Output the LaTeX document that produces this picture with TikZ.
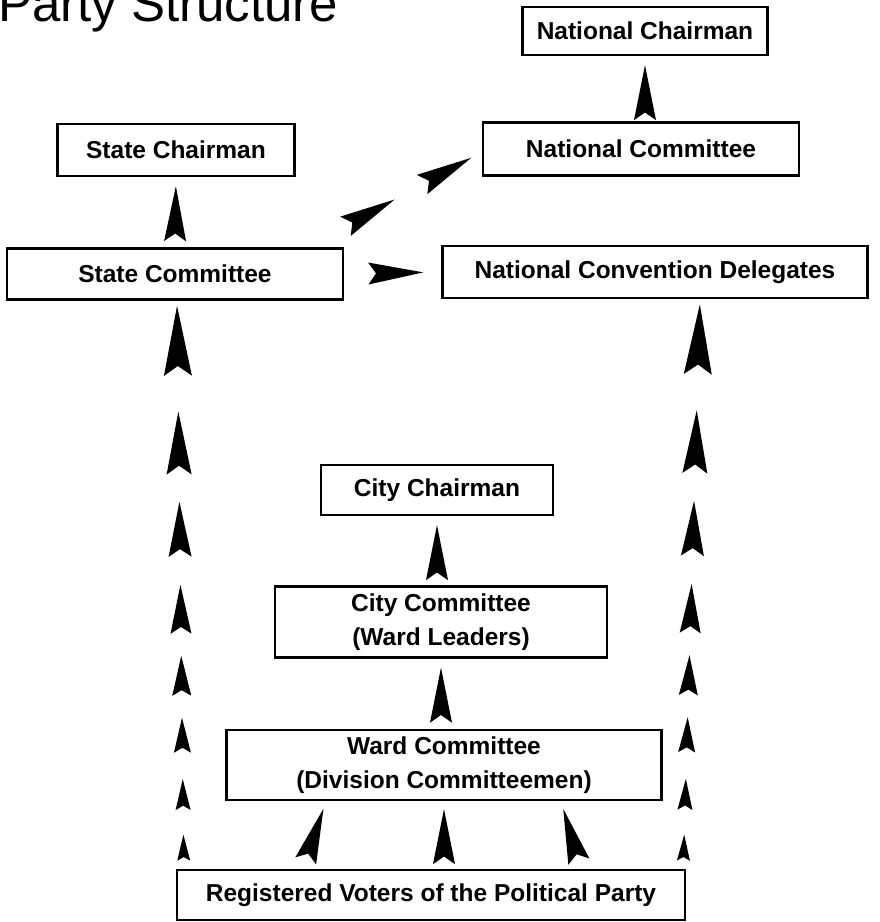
\documentclass[tikz,border=0pt]{standalone}
\usepackage{fontspec}
\setmainfont{Liberation Sans}
\usetikzlibrary{decorations.markings}

\newcommand{\dart}[2]{\fill (0,0) -- (-#1,#2) -- ({-0.86*#1},0) -- (-#1,-#2) -- cycle;}

\begin{document}
\begin{tikzpicture}[x=1pt,y=-1pt,
    box/.style={draw=black, line width=2.4pt, inner sep=0pt, align=center,
      font=\fontsize{24.5}{34}\selectfont\bfseries},
    onehead/.style={postaction={decorate}, decoration={markings,
      mark=at position #1 with {\dart{55}{11}}}},
    twoheads/.style={postaction={decorate}, decoration={markings,
      mark=at position 0.406 with {\dart{56}{11}},
      mark=at position -12pt with {\dart{56}{11}}}},
    headchain/.style={postaction={decorate}, decoration={markings,
      mark=at position 0.060 with {\dart{26}{6.5}},
      mark=at position 0.158 with {\dart{31}{7.5}},
      mark=at position 0.266 with {\dart{35}{8.5}},
      mark=at position 0.375 with {\dart{40}{9.5}},
      mark=at position 0.5 with {\dart{49}{10.5}},
      mark=at position 0.646 with {\dart{55}{11.5}},
      mark=at position 0.805 with {\dart{63}{12.5}},
      mark=at position 0.991 with {\dart{70}{14}}}}]
  \fill[white] (0,0) rectangle (880,922);
  \useasboundingbox (0,0) rectangle (880,922);

  \node[anchor=base west, inner sep=0pt, font=\fontsize{51}{51}\selectfont] (title) at (-2,21) {Party Structure};

  \node[box, minimum width=245, minimum height=48] (natchair) at (645,31) {National Chairman};
  \node[box, minimum width=316, minimum height=53] (natcom) at (641,149) {National Committee};
  \node[box, minimum width=237, minimum height=52] (statechair) at (176,150) {State Chairman};
  \node[box, minimum width=336, minimum height=51] (statecom) at (175,274) {State Committee};
  \node[box, minimum width=425, minimum height=52] (ncd) at (655,272) {National Convention Delegates};
  \node[box, minimum width=232, minimum height=50] (citychair) at (437,490) {City Chairman};
  \node[box, minimum width=332, minimum height=71] (citycom) at (441,622) {City Committee\\(Ward Leaders)};
  \node[box, minimum width=435, minimum height=70] (ward) at (444,765) {Ward Committee\\(Division Committeemen)};
  \node[box, minimum width=508, minimum height=50] (voters) at (431,895) {Registered Voters of the Political Party};

  \coordinate (diagstart) at (335,232);

  \path[onehead=-9pt] (natcom.north -| natchair.south) -- (natchair.south);
  \path[onehead=-9pt] (statecom.north) -- (statechair.south);
  \path[onehead=-18pt] (statecom.east) -- (ncd.west);
  \path[twoheads] (diagstart) -- ([yshift=-3pt]natcom.west);
  \path[onehead=-9pt] (citycom.north -| citychair.south) -- (citychair.south);
  \path[onehead=-9pt] (ward.north -| citycom.south) -- (citycom.south);
  \path[onehead=-8pt] ([xshift=-128pt]voters.north) -- ([xshift=-118pt]ward.south);
  \path[onehead=-8pt] (voters.north -| ward.south) -- (ward.south);
  \path[onehead=-8pt] ([xshift=150pt]voters.north) -- ([xshift=117pt]ward.south);
  \path[headchain] ([xshift=8pt]voters.north west) -- ([xshift=2pt]statecom.south);
  \path[headchain] ([xshift=-3pt]voters.north east) -- ([xshift=45pt]ncd.south);
\end{tikzpicture}
\end{document}
